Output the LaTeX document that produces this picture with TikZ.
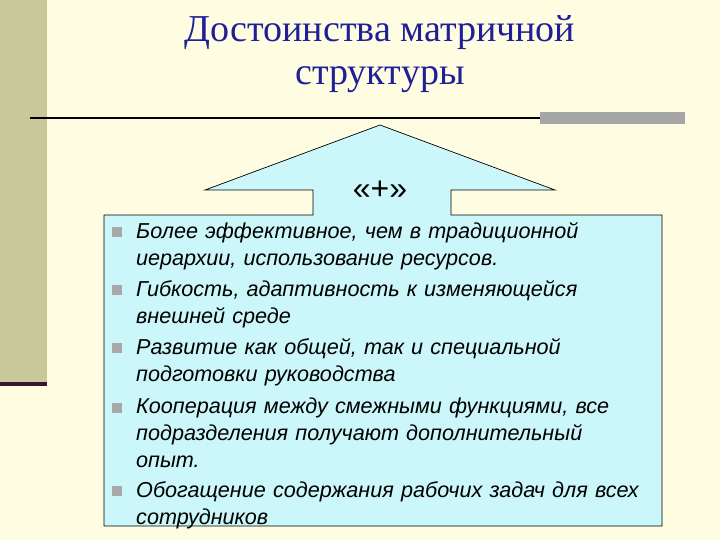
\documentclass[tikz,border=0pt]{standalone}
\usepackage{fontspec}
\setmainfont{Liberation Sans}
\newfontfamily\titlefont{Liberation Serif}
\definecolor{bg}{HTML}{FFFDE1}
\definecolor{greenbar}{HTML}{C8C89A}
\definecolor{purp}{HTML}{3A1530}
\definecolor{cyanf}{HTML}{CCF7FA}
\definecolor{titleblue}{HTML}{1F1F99}
\definecolor{bul}{HTML}{A8A8A8}
\begin{document}
\begin{tikzpicture}[x=1pt,y=-1pt,
  item/.style={anchor=north west,inner sep=0pt,text width=560pt,align=left,font=\fontsize{21.6}{27}\selectfont\itshape},
  bullet/.style={fill=bul,minimum size=10pt,inner sep=0pt}]
\fill[bg] (0,0) rectangle (720,540);
\useasboundingbox (0,0) rectangle (720,540);
\fill[greenbar] (0,0) rectangle (47,382);
\fill[purp] (0,382) rectangle (47,386);
\node[font=\titlefont\fontsize{38}{43}\selectfont,text=titleblue,align=center] (title) at (380,54) {Достоинства матричной\\структуры};
\draw[line width=1.2pt] (30,118) -- (540,118);
\fill[gray!70] (540,112) rectangle (685,124);
\draw[fill=cyanf,line width=0.7pt] (313,215) -- (313,190) -- (205,190) -- (380,125) -- (555,190) -- (451,190) -- (451,215) -- (662,215) -- (662,526) -- (104,526) -- (104,215) -- cycle;
\node[font=\fontsize{32}{36}\selectfont] (plus) at (380,190) {«+»};
\foreach \y/\t [count=\i] in {232/{Более эффективное, чем в традиционной\\иерархии, использование ресурсов.},
  290/{Гибкость, адаптивность к изменяющейся\\внешней среде},
  348/{Развитие как общей, так и специальной\\подготовки руководства},
  408/{Кооперация между смежными функциями, все\\подразделения получают дополнительный\\опыт.},
  491/{Обогащение содержания рабочих задач для всех\\сотрудников}}{
  \node[bullet] (b\i) at (117,\y) {};
  \node[item] (t\i) at (136,\y-10) {\t};
}
\end{tikzpicture}
\end{document}
